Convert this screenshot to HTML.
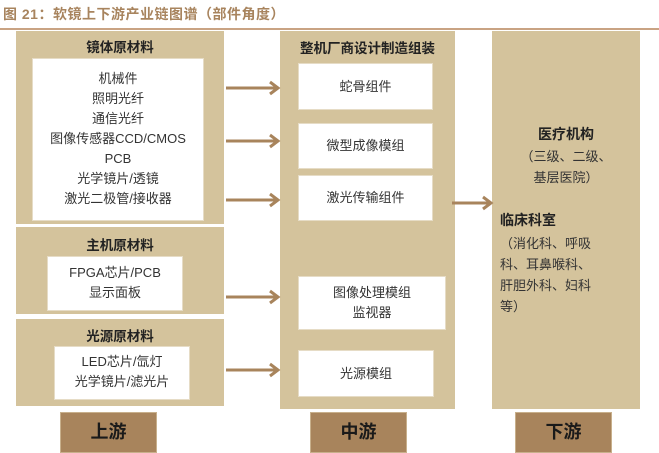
<!DOCTYPE html>
<html><head><meta charset="utf-8"><style>
body{margin:0;width:659px;height:453px;background:#fff;position:relative;overflow:hidden;font-family:"Liberation Sans","Noto Sans CJK SC",sans-serif;}
div{position:absolute;box-sizing:border-box}
.p{background:#d4c39c}
.w{background:#fff;border:1px solid #e6dcc6;color:#333;font-size:13px;text-align:center;line-height:20px}
.h{font-weight:bold;font-size:13.5px;color:#222;text-align:center}
.b{background:#a8845c;border:1px solid #c8b08c;font-weight:bold;font-size:18px;color:#1a1a1a;text-align:center;line-height:38px}
.t{font-size:13px;color:#333;line-height:21px}
</style></head><body>
<div style="left:3px;top:4px;font-size:14px;font-weight:bold;color:#a8845e;letter-spacing:0.5px">图 21：软镜上下游产业链图谱（部件角度）</div>
<div style="left:0;top:28px;width:659px;height:2px;background:#c9a383"></div>

<div class="p" style="left:16px;top:31px;width:208px;height:193px"></div>
<div class="h" style="left:16px;top:36px;width:208px">镜体原材料</div>
<div class="w" style="left:32px;top:58px;width:172px;height:163px;padding-top:10px">机械件<br>照明光纤<br>通信光纤<br>图像传感器CCD/CMOS<br>PCB<br>光学镜片/透镜<br>激光二极管/接收器</div>

<div class="p" style="left:16px;top:227px;width:208px;height:87px"></div>
<div class="h" style="left:16px;top:234px;width:208px">主机原材料</div>
<div class="w" style="left:47px;top:256px;width:136px;height:55px;padding-top:6px">FPGA芯片/PCB<br>显示面板</div>

<div class="p" style="left:16px;top:319px;width:208px;height:87px"></div>
<div class="h" style="left:16px;top:325px;width:208px">光源原材料</div>
<div class="w" style="left:54px;top:346px;width:136px;height:54px;padding-top:5px">LED芯片/氙灯<br>光学镜片/滤光片</div>

<div class="p" style="left:280px;top:31px;width:175px;height:378px"></div>
<div class="h" style="left:280px;top:37px;width:175px">整机厂商设计制造组装</div>
<div class="w" style="left:298px;top:63px;width:135px;height:47px;line-height:45px">蛇骨组件</div>
<div class="w" style="left:298px;top:123px;width:135px;height:46px;line-height:44px">微型成像模组</div>
<div class="w" style="left:298px;top:175px;width:135px;height:46px;line-height:44px">激光传输组件</div>
<div class="w" style="left:298px;top:276px;width:148px;height:54px;padding-top:6px">图像处理模组<br>监视器</div>
<div class="w" style="left:298px;top:350px;width:136px;height:47px;line-height:45px">光源模组</div>

<div class="p" style="left:492px;top:31px;width:148px;height:378px"></div>
<div class="h" style="left:492px;top:124px;width:148px;font-size:14px">医疗机构</div>
<div class="t" style="left:492px;top:146px;width:148px;text-align:center">（三级、二级、<br>基层医院）</div>
<div class="h" style="left:500px;top:210px;font-size:14px;text-align:left">临床科室</div>
<div class="t" style="left:500px;top:233px;width:135px">（消化科、呼吸<br>科、耳鼻喉科、<br>肝胆外科、妇科<br>等）</div>

<div class="b" style="left:60px;top:412px;width:97px;height:41px">上游</div>
<div class="b" style="left:310px;top:412px;width:97px;height:41px">中游</div>
<div class="b" style="left:515px;top:412px;width:97px;height:41px">下游</div>

<svg style="position:absolute;left:0;top:0" width="659" height="453">
<g stroke="#a8845c" stroke-width="3" fill="none">
<path d="M226 88H278M270 82L278 88L270 94"/>
<path d="M226 141H278M270 135L278 141L270 147"/>
<path d="M226 200H278M270 194L278 200L270 206"/>
<path d="M226 297H278M270 291L278 297L270 303"/>
<path d="M226 370H278M270 364L278 370L270 376"/>
<path d="M452 203H491M483 197L491 203L483 209"/>
</g></svg>
</body></html>
